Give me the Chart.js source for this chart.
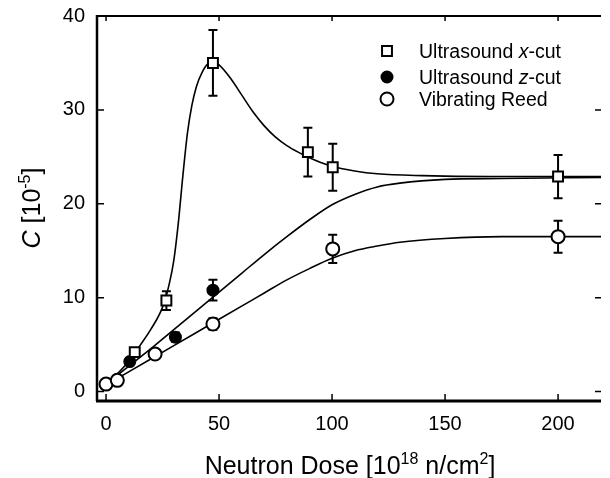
<!DOCTYPE html>
<html>
<head>
<meta charset="utf-8">
<script src="https://cdn.jsdelivr.net/npm/chart.js@4.4.1/dist/chart.umd.min.js"></script>
<style>
    html, body { margin: 0; padding: 0; background: #fff; }
</style>
</head>
<body>
<canvas id="chart" width="610" height="478"></canvas>
<script>
// measured points (dose in 1e18 n/cm2, C in 1e-5)
const xcutDose = [12.7, 26.7, 47.3, 89.3, 100.3, 200];
const xcutC    = [4.2, 9.7, 35.0, 25.5, 23.9, 22.9];
const xcutErr  = [0, 1.0, 3.5, 2.6, 2.5, 2.3];

const zcutDose = [10.5, 30.7, 47.3];
const zcutC    = [3.2, 5.8, 10.8];
const zcutErr  = [0, 0.5, 1.1];

const reedDose = [0, 5, 21.7, 47.3, 100.3, 200];
const reedC    = [0.8, 1.2, 4.0, 7.2, 15.2, 16.5];
const reedErr  = [0, 0, 0, 0.6, 1.5, 1.7];

// fit curves
const xcutFitDose = [0, 5, 10, 15, 20, 25, 28, 30, 32, 34, 36, 38, 40, 42.5, 45, 47.5, 50, 55, 60, 65, 70, 75, 80, 85, 90, 95, 100, 110, 120, 140, 170, 219];
const xcutFitC    = [0.8, 1.9, 3.2, 4.9, 6.7, 9.0, 11.5, 14, 18, 23, 27.5, 30.5, 32.5, 34, 34.9, 35.1, 34.8, 33.4, 31.6, 29.8, 28.3, 27.1, 26.2, 25.5, 24.9, 24.4, 24.0, 23.5, 23.2, 23.0, 22.9, 22.9];

const zcutFitDose = [0, 10, 20, 30, 40, 50, 60, 70, 80, 90, 100, 110, 120, 130, 150, 175, 219];
const zcutFitC    = [0.8, 2.7, 4.6, 6.6, 8.6, 10.6, 12.6, 14.6, 16.5, 18.3, 19.9, 21.0, 21.8, 22.2, 22.6, 22.7, 22.8];

const reedFitDose = [0, 10, 20, 30, 40, 50, 60, 70, 80, 90, 100, 110, 120, 130, 150, 175, 219];
const reedFitC    = [0.7, 2.1, 3.5, 4.9, 6.3, 7.7, 9.1, 10.5, 11.9, 13.1, 14.2, 15.0, 15.5, 15.9, 16.3, 16.5, 16.5];

const xTicks = [0, 50, 100, 150, 200];
const yTicks = [0, 10, 20, 30, 40];

const FONT = '"Liberation Sans", Arial, Helvetica, sans-serif';

function pairs(xs, ys) {
    return xs.map((x, i) => ({ x, y: ys[i] }));
}

function runFont(run, size) {
    const s = run.sup ? Math.round(size * 0.62) : size;
    return (run.italic ? 'italic ' : '') + s + 'px ' + FONT;
}

// draw a line of text made of plain / italic / superscript runs
function drawRuns(ctx, runs, x, y, size, align) {
    let total = 0;
    runs.forEach(r => {
        ctx.font = runFont(r, size);
        r.w = ctx.measureText(r.text).width;
        total += r.w;
    });
    let cx = align === 'center' ? x - total / 2 : x;
    ctx.textAlign = 'left';
    ctx.textBaseline = 'alphabetic';
    runs.forEach(r => {
        ctx.font = runFont(r, size);
        ctx.fillText(r.text, cx, y - (r.sup ? size * 0.42 : 0));
        cx += r.w;
    });
}

const errorSets = [
    { dose: xcutDose, c: xcutC, err: xcutErr },
    { dose: zcutDose, c: zcutC, err: zcutErr },
    { dose: reedDose, c: reedC, err: reedErr }
];

const errorBarPlugin = {
    id: 'errorBars',
    beforeDatasetsDraw(chart) {
        const { ctx, scales: { x, y } } = chart;
        ctx.save();
        ctx.strokeStyle = '#000';
        ctx.lineWidth = 2;
        errorSets.forEach(set => {
            set.dose.forEach((d, i) => {
                if (!set.err[i]) return;
                const px = x.getPixelForValue(d);
                const top = y.getPixelForValue(set.c[i] + set.err[i]);
                const bot = y.getPixelForValue(set.c[i] - set.err[i]);
                ctx.beginPath();
                ctx.moveTo(px, top); ctx.lineTo(px, bot);
                ctx.moveTo(px - 4.5, top); ctx.lineTo(px + 4.5, top);
                ctx.moveTo(px - 4.5, bot); ctx.lineTo(px + 4.5, bot);
                ctx.stroke();
            });
        });
        ctx.restore();
    }
};

const legendItems = [
    { runs: [{ text: 'Ultrasound ' }, { text: 'x', italic: true }, { text: '-cut' }], style: 'rect', radius: 7, fill: '#fff' },
    { runs: [{ text: 'Ultrasound ' }, { text: 'z', italic: true }, { text: '-cut' }], style: 'circle', radius: 5.5, fill: '#000' },
    { runs: [{ text: 'Vibrating Reed' }], style: 'circle', radius: 6.5, fill: '#fff' }
];
const legendRows = [51, 77, 99];

const framePlugin = {
    id: 'frame',
    afterDatasetsDraw(chart) {
        const { ctx, chartArea: a, scales: { x, y } } = chart;
        ctx.save();
        ctx.strokeStyle = '#000';
        ctx.fillStyle = '#000';

        // axis lines
        ctx.lineWidth = 2.5;
        ctx.beginPath();
        ctx.moveTo(a.left, a.top - 1); ctx.lineTo(a.left, a.bottom);
        ctx.stroke();
        ctx.lineWidth = 3;
        ctx.beginPath();
        ctx.moveTo(a.left - 1, a.bottom); ctx.lineTo(a.right, a.bottom);
        ctx.stroke();
        ctx.lineWidth = 2;
        ctx.beginPath();
        ctx.moveTo(a.left, a.top); ctx.lineTo(a.right, a.top);
        ctx.stroke();

        // ticks, pointing inward
        ctx.lineWidth = 1.5;
        ctx.beginPath();
        xTicks.forEach(v => {
            const px = x.getPixelForValue(v);
            ctx.moveTo(px, a.bottom); ctx.lineTo(px, a.bottom - 7);
            ctx.moveTo(px, a.top); ctx.lineTo(px, a.top + 5);
        });
        yTicks.forEach(v => {
            const py = y.getPixelForValue(v);
            ctx.moveTo(a.left, py); ctx.lineTo(a.left + 7, py);
            ctx.moveTo(a.right, py); ctx.lineTo(a.right - 6, py);
        });
        ctx.stroke();

        // tick labels
        ctx.font = '20px ' + FONT;
        ctx.textAlign = 'center';
        ctx.textBaseline = 'alphabetic';
        xTicks.forEach(v => ctx.fillText(String(v), x.getPixelForValue(v), 430));
        ctx.textAlign = 'right';
        ctx.textBaseline = 'middle';
        yTicks.forEach(v => ctx.fillText(String(v), 85, y.getPixelForValue(v)));

        // axis titles
        drawRuns(ctx, [
            { text: 'Neutron Dose [10' }, { text: '18', sup: true },
            { text: ' n/cm' }, { text: '2', sup: true }, { text: ']' }
        ], (a.left + a.right) / 2 + 1, 474, 25, 'center');

        ctx.save();
        ctx.translate(40, 208);
        ctx.rotate(-Math.PI / 2);
        drawRuns(ctx, [
            { text: 'C', italic: true }, { text: ' [10' }, { text: '-5', sup: true }, { text: ']' }
        ], 0, 0, 25, 'center');
        ctx.restore();

        // legend
        legendItems.forEach((item, i) => {
            const cy = legendRows[i];
            ctx.fillStyle = item.fill;
            ctx.strokeStyle = '#000';
            ctx.lineWidth = 2;
            Chart.helpers.drawPoint(ctx, { pointStyle: item.style, radius: item.radius, borderWidth: 2, rotation: 0 }, 387, cy);
            ctx.fillStyle = '#000';
            drawRuns(ctx, item.runs, 419, cy + 7, 19.5, 'left');
        });

        ctx.restore();
    }
};

const fitLine = (xs, ys) => ({
    type: 'line',
    data: pairs(xs, ys),
    borderColor: '#000',
    borderWidth: 1.6,
    pointRadius: 0,
    fill: false,
    cubicInterpolationMode: 'monotone',
    order: 3
});

const markers = (xs, ys, style, radius, fill) => ({
    type: 'scatter',
    data: pairs(xs, ys),
    pointStyle: style,
    pointRadius: radius,
    pointHoverRadius: radius,
    pointBackgroundColor: fill,
    pointBorderColor: '#000',
    pointBorderWidth: 2,
    showLine: false,
    order: 1
});

new Chart(document.getElementById('chart'), {
    data: {
        datasets: [
            fitLine(xcutFitDose, xcutFitC),
            fitLine(zcutFitDose, zcutFitC),
            fitLine(reedFitDose, reedFitC),
            markers(xcutDose, xcutC, 'rect', 7, '#fff'),
            markers(zcutDose, zcutC, 'circle', 5.5, '#000'),
            markers(reedDose, reedC, 'circle', 6.5, '#fff')
        ]
    },
    options: {
        responsive: false,
        animation: false,
        devicePixelRatio: 1,
        layout: { padding: { left: 97, top: 16, right: 0, bottom: 77 } },
        plugins: { legend: { display: false }, tooltip: { enabled: false } },
        scales: {
            x: { type: 'linear', min: -4, max: 219, display: false },
            y: { type: 'linear', min: -1, max: 40, display: false }
        }
    },
    plugins: [errorBarPlugin, framePlugin]
});
</script>
</body>
</html>
